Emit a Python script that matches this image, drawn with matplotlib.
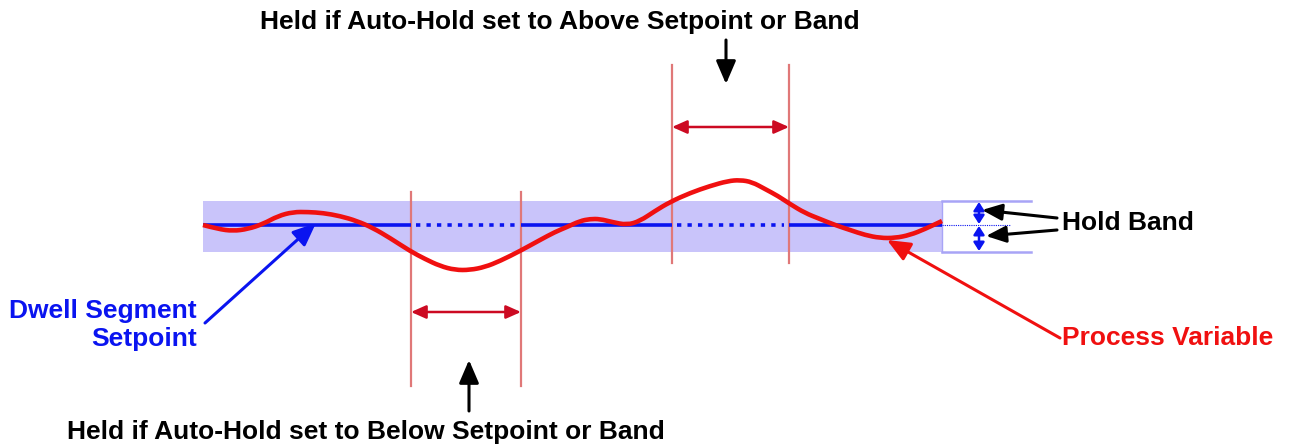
import matplotlib
matplotlib.use("Agg")
import matplotlib.pyplot as plt
from matplotlib.patches import Rectangle, FancyArrowPatch, PathPatch
from matplotlib.path import Path

plt.rcParams['font.family'] = ['Liberation Sans', 'DejaVu Sans']

# ---- data (pixel space) ----
pv_x = [203, 218, 233, 248, 263, 278, 293, 308, 323, 340, 357, 373, 390, 410, 425, 440, 455, 470,
        485, 500, 520, 540, 555, 567, 580, 590, 600, 612, 627, 640, 655, 670, 690, 710, 728, 740,
        752, 765, 778, 790, 805, 820, 835, 850, 865, 880, 895, 910, 925, 942]
pv_y = [225, 229, 231, 229, 224, 216, 212, 212, 213, 216, 221, 228, 238, 251, 259, 266, 270, 270,
        267, 261, 251, 240, 232, 227, 221, 219, 219, 222, 225, 221, 211, 202, 193, 186, 181, 180,
        182, 189, 196, 204, 213, 219, 225, 230, 235, 238, 238, 235, 229, 221]
setpoint_y = 225
band_top, band_bottom = 201, 252
band_x0, band_x1 = 203, 942
below_window = (411, 521)
above_window = (672, 789)

title_top = "Held if Auto-Hold set to Above Setpoint or Band"
title_bottom = "Held if Auto-Hold set to Below Setpoint or Band"
label_sp = "Dwell Segment\nSetpoint"
label_pv = "Process Variable"
label_band = "Hold Band"

W, H = 1289, 445
fig = plt.figure(figsize=(W / 100, H / 100), dpi=100)
ax = fig.add_axes([0, 0, 1, 1])
ax.set_xlim(0, W)
ax.set_ylim(H, 0)
ax.axis('off')

band_col = '#c9c4fa'
blue = '#0a14f0'
red = '#f01010'
vline_col = '#e07878'
darkred = '#cc0a22'
fs = 19

# hold band
ax.add_patch(Rectangle((band_x0, band_top), band_x1 - band_x0, band_bottom - band_top,
                       facecolor=band_col, edgecolor='none', zorder=1))

# setpoint line: solid outside windows, dotted inside
solid_segments = [(band_x0, below_window[0]), (below_window[1], above_window[0]),
                  (above_window[1], band_x1)]
for a, b in solid_segments:
    ax.plot([a, b], [setpoint_y, setpoint_y], color=blue, lw=2.6, solid_capstyle='butt', zorder=3)
for a, b in [below_window, above_window]:
    ax.plot([a + 5, b - 5], [setpoint_y, setpoint_y], color=blue, lw=2.6,
            linestyle=(0, (1.2, 1.7)), dash_capstyle='butt', zorder=3)

# window vertical lines
for x in below_window:
    ax.plot([x, x], [192, 386], color=vline_col, lw=1.6, zorder=2)
for x in above_window:
    ax.plot([x, x], [65, 263], color=vline_col, lw=1.6, zorder=2)

# horizontal double arrows
for (a, b), y in [(below_window, 312), (above_window, 127)]:
    ax.add_patch(FancyArrowPatch((a, y), (b, y), arrowstyle='<|-|>,head_length=9,head_width=4',
                                 color=darkred, lw=1.8, shrinkA=0, shrinkB=0, zorder=4))

# process variable: smooth quadratic Bezier through the read points (as control points)
pts = list(zip(pv_x, pv_y))
verts = [pts[0]]
codes = [Path.MOVETO]
for i in range(1, len(pts) - 1):
    mx = (pts[i][0] + pts[i + 1][0]) / 2
    my = (pts[i][1] + pts[i + 1][1]) / 2
    verts += [pts[i], (mx, my)]
    codes += [Path.CURVE3, Path.CURVE3]
verts.append(pts[-1])
codes.append(Path.LINETO)
ax.add_patch(PathPatch(Path(verts, codes), facecolor='none', edgecolor=red, lw=3.3,
                       capstyle='butt', joinstyle='round', zorder=5))

# right-side hold band indicator
rx1 = 1031
ax.plot([band_x1, rx1], [band_top, band_top], color='#a8a4f6', lw=1.8, zorder=2)
ax.plot([band_x1, rx1], [band_bottom, band_bottom], color='#a8a4f6', lw=1.8, zorder=2)
ax.plot([band_x1, band_x1], [band_top, band_bottom], color='#a8a4f6', lw=1.0, zorder=2)
ax.plot([band_x1, 1010], [setpoint_y, setpoint_y], color=blue, lw=0.8, linestyle=(0, (1, 1)), zorder=2)
for y0, y1 in [(band_top, setpoint_y), (setpoint_y, band_bottom)]:
    ax.add_patch(FancyArrowPatch((979, y0 + 1), (979, y1 - 1),
                                 arrowstyle='<|-|>,head_length=5,head_width=3.2',
                                 color=blue, lw=1.8, shrinkA=0, shrinkB=0, zorder=6))

# pointer arrows
def arrow(p0, p1, color, lw=2.2, hl=14, hw=6):
    ax.add_patch(FancyArrowPatch(p0, p1, arrowstyle=f'-|>,head_length={hl},head_width={hw}',
                                 color=color, lw=lw, shrinkA=0, shrinkB=0, zorder=7))

arrow((726, 40), (726, 84), 'black')
arrow((469, 411), (469, 360), 'black')
arrow((1057, 218), (982, 210), 'black', hl=12, hw=5)
arrow((1057, 230), (986, 236), 'black', hl=12, hw=5)
arrow((205, 323), (316, 223), blue)
arrow((1060, 338), (887, 240), red)

# texts
ax.text(560, 22, title_top, ha='center', va='center', fontsize=fs, fontweight='bold', color='black')
ax.text(366, 432, title_bottom, ha='center', va='center', fontsize=fs, fontweight='bold', color='black')
ax.text(197, 325, label_sp, ha='right', va='center', fontsize=fs, fontweight='bold', color=blue,
        multialignment='right', linespacing=1.2)
ax.text(1062, 338, label_pv, ha='left', va='center', fontsize=fs, fontweight='bold', color=red)
ax.text(1062, 223, label_band, ha='left', va='center', fontsize=fs, fontweight='bold', color='black')

fig.savefig('out.png', dpi=100)
